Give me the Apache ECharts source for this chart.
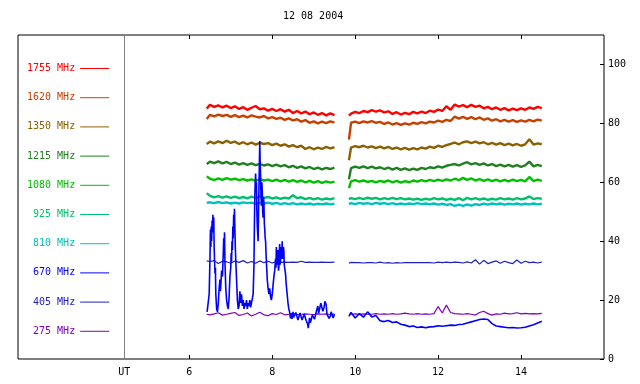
<!DOCTYPE html>
<html>
<head>
<meta charset="utf-8">
<script src="https://cdn.jsdelivr.net/npm/echarts@6/dist/echarts.min.js"></script>
<style>html,body{margin:0;padding:0;background:#fff}#chart{width:640px;height:384px}</style>
</head>
<body>
<div id="chart"></div>
<script>
const titleText = '12 08 2004';
const seriesNames = ['1755 MHz','1620 MHz','1350 MHz','1215 MHz','1080 MHz','925 MHz','810 MHz','670 MHz','405 MHz','275 MHz'];
const xTickValues = [6, 8, 10, 12, 14];
const utPosition = 4.43;
const yTickLabels = [0, 20, 40, 60, 80, 100];

const hoursL = [6.42,6.5,6.6,6.7,6.8,6.9,7.0,7.1,7.2,7.3,7.4,7.5,7.6,7.7,7.8,7.9,8.0,8.1,8.2,8.3,8.4,8.5,8.6,8.7,8.8,8.9,9.0,9.1,9.2,9.3,9.4,9.5];
const hoursR = [9.85,9.9,10.0,10.1,10.2,10.3,10.4,10.5,10.6,10.7,10.8,10.9,11.0,11.1,11.2,11.3,11.4,11.5,11.6,11.7,11.8,11.9,12.0,12.1,12.2,12.3,12.4,12.5,12.6,12.7,12.8,12.9,13.0,13.1,13.2,13.3,13.4,13.5,13.6,13.7,13.8,13.9,14.0,14.1,14.2,14.3,14.4,14.5];

const f1755L = [85.0,86.3,85.6,86.1,85.4,86.0,85.2,85.8,84.9,85.5,84.6,85.3,85.9,84.8,85.1,84.3,84.9,84.2,84.8,84.0,84.6,83.5,84.2,83.4,84.0,83.1,83.7,82.9,83.5,82.7,83.4,82.8];
const f1755R = [82.6,83.3,83.9,83.5,84.2,83.8,84.5,84.0,84.4,83.7,84.1,83.2,83.8,83.0,83.6,83.1,83.9,83.4,84.0,83.5,84.3,83.9,84.7,84.2,85.8,84.6,86.4,85.7,86.2,85.5,86.3,85.6,86.0,85.1,85.6,84.8,85.4,84.6,85.2,84.4,85.0,84.5,85.1,84.6,85.4,84.9,85.6,85.2];
const f1620L = [81.5,82.9,82.4,83.0,82.5,82.9,82.2,82.8,82.1,82.6,82.0,82.7,82.3,82.0,82.5,81.7,82.1,81.5,81.9,81.2,81.7,81.0,81.4,80.6,81.1,80.2,80.7,80.0,80.6,80.1,80.7,80.3];
const f1620R = [74.5,80.2,80.6,80.1,80.7,80.3,80.8,80.2,80.5,79.8,80.3,79.6,80.1,79.5,80.0,79.6,80.2,79.8,80.4,80.0,80.6,80.3,80.9,80.5,81.2,80.8,82.3,81.6,82.2,81.5,82.1,81.4,82.0,81.2,81.7,80.9,81.4,80.7,81.2,80.6,81.1,80.5,81.0,80.6,81.2,80.7,81.3,80.9];
const f1350L = [73.0,73.8,73.2,73.9,73.3,74.1,73.4,73.8,73.0,73.6,72.9,73.5,72.8,73.4,73.0,73.3,72.6,73.1,72.4,72.9,72.1,72.6,71.9,72.4,71.3,71.9,71.2,71.8,71.3,72.0,71.5,71.9];
const f1350R = [67.5,71.8,72.3,71.9,72.4,71.8,72.2,71.6,72.1,71.5,72.0,71.3,71.8,71.2,71.7,71.1,71.6,71.2,71.8,71.4,72.1,71.7,72.4,72.0,72.6,73.0,73.5,72.9,73.6,73.9,73.3,73.8,73.2,73.6,72.9,73.4,72.8,73.3,72.6,73.1,72.5,73.0,72.4,72.9,74.6,72.8,73.2,72.9];
const f1215L = [66.2,67.0,66.5,67.1,66.4,66.9,66.2,66.7,66.0,66.5,65.9,66.4,65.8,66.2,65.7,66.1,65.5,66.0,65.4,65.8,65.1,65.6,64.9,65.4,64.7,65.2,64.5,65.0,64.4,64.9,64.5,65.0];
const f1215R = [61.0,64.8,65.3,64.9,65.4,64.8,65.3,64.7,65.1,64.5,65.0,64.3,64.9,64.2,64.7,64.1,64.6,64.2,64.9,64.5,65.1,64.8,65.4,65.0,65.6,65.9,66.2,65.7,66.3,66.8,66.1,66.5,65.9,66.4,65.7,66.2,65.5,66.0,65.4,65.9,65.3,65.8,65.2,65.7,67.0,65.4,65.9,65.5];
const f1080L = [62.0,61.2,60.7,61.3,60.8,61.4,60.9,61.2,60.7,61.1,60.6,61.0,60.5,61.1,60.6,60.9,60.4,60.9,60.3,60.8,60.2,60.7,60.1,60.6,60.0,60.5,59.9,60.4,59.8,60.3,59.9,60.2];
const f1080R = [58.0,60.3,60.7,60.2,60.6,60.1,60.5,60.0,60.5,60.1,60.6,60.0,60.5,59.9,60.4,60.0,60.6,60.2,60.7,60.3,60.8,60.4,60.9,60.5,61.0,60.6,61.2,60.7,61.5,60.8,61.3,60.6,61.1,60.5,61.0,60.4,60.9,60.3,60.8,60.3,60.9,60.4,60.8,60.3,61.8,60.4,60.9,60.5];
const f925L = [56.3,55.4,54.9,55.3,54.8,55.2,54.7,55.1,54.6,55.0,54.5,55.1,54.6,55.2,54.7,55.0,54.5,54.9,54.4,54.8,54.5,55.6,54.6,54.9,54.3,54.7,54.2,54.6,54.1,54.5,54.2,54.6];
const f925R = [54.3,54.6,54.3,54.7,54.3,54.8,54.4,54.7,54.2,54.6,54.3,54.7,54.3,54.6,54.2,54.5,54.1,54.4,54.0,54.4,54.1,54.6,54.2,54.5,54.0,54.4,54.0,54.6,53.9,54.7,54.2,54.6,54.1,54.5,54.0,54.4,54.1,54.6,54.2,54.5,54.1,54.6,54.2,54.5,55.2,54.3,54.6,54.4];
const f810L = [53.0,53.2,52.9,53.3,52.9,53.2,52.8,53.1,52.8,53.2,52.9,53.1,52.7,53.0,52.8,53.1,52.7,53.0,52.6,52.9,52.6,52.9,52.5,52.8,52.5,52.8,52.4,52.7,52.5,52.8,52.5,52.7];
const f810R = [52.6,52.9,52.6,53.0,52.7,52.9,52.6,53.0,52.7,52.9,52.6,52.9,52.5,52.8,52.5,52.8,52.6,52.9,52.6,52.8,52.5,52.8,52.4,52.7,52.3,52.6,52.0,52.4,52.0,52.5,52.1,52.6,52.3,52.7,52.4,52.8,52.5,52.8,52.4,52.7,52.5,52.8,52.4,52.7,52.5,52.8,52.5,52.7];
const f670L = [[6.43,16.0],[6.46,15.5],[6.48,22],[6.50,35],[6.51,44],[6.52,38],[6.53,45],[6.54,40],[6.55,47],[6.56,43],[6.57,49],[6.58,45],[6.59,48],[6.60,38],[6.61,33],[6.62,29],[6.63,31],[6.64,22],[6.66,17],[6.68,16],[6.70,19],[6.72,24],[6.74,27],[6.75,23],[6.76,25],[6.78,30],[6.80,28],[6.82,36],[6.83,41],[6.84,37],[6.85,43],[6.86,33],[6.88,24],[6.90,20],[6.92,18],[6.94,17],[6.96,21],[6.98,28],[7.00,31],[7.01,36],[7.02,33],[7.03,40],[7.04,37],[7.05,45],[7.06,41],[7.07,49],[7.08,46],[7.09,51],[7.10,44],[7.11,38],[7.12,34],[7.14,27],[7.16,20],[7.18,17],[7.20,18],[7.22,23],[7.24,19],[7.26,22],[7.28,18],[7.30,20],[7.32,17],[7.34,19],[7.36,18],[7.38,20],[7.40,17],[7.42,19],[7.44,18],[7.46,20],[7.48,17.5],[7.50,18],[7.52,17],[7.54,22],[7.56,32],[7.57,45],[7.58,55],[7.59,60],[7.60,63],[7.61,57],[7.62,60],[7.63,50],[7.64,45],[7.66,40],[7.67,50],[7.68,58],[7.69,66],[7.70,74],[7.71,66],[7.72,62],[7.73,55],[7.74,52],[7.75,60],[7.76,57],[7.77,50],[7.78,48],[7.79,55],[7.80,53],[7.81,46],[7.82,44],[7.83,41],[7.84,40],[7.85,36],[7.86,33],[7.88,27],[7.90,24],[7.92,22],[7.94,24],[7.96,21],[7.98,20],[8.00,22],[8.02,25],[8.04,28],[8.06,30],[8.08,34],[8.09,31],[8.10,38],[8.11,33],[8.12,32],[8.13,36],[8.14,37],[8.15,30],[8.16,31],[8.17,36],[8.18,39],[8.19,32],[8.20,33],[8.21,37],[8.22,38],[8.23,34],[8.24,40],[8.25,35],[8.26,34],[8.27,38],[8.28,37],[8.29,32],[8.30,31],[8.32,29],[8.34,25],[8.36,22],[8.38,19],[8.40,17],[8.42,16],[8.44,13.8],[8.46,15.5],[8.48,13.6],[8.50,16],[8.52,14.2],[8.55,14],[8.57,15.8],[8.60,15.5],[8.62,13.2],[8.65,13.8],[8.67,15.6],[8.70,15],[8.72,13.2],[8.75,13.5],[8.77,15.3],[8.80,15.5],[8.82,13.0],[8.85,12],[8.87,10.5],[8.90,14],[8.92,12.3],[8.95,12.5],[8.97,15.0],[9.00,15],[9.02,13.5],[9.05,14],[9.07,16.5],[9.10,18],[9.12,15.5],[9.15,16],[9.17,19.0],[9.20,19.5],[9.22,16.2],[9.25,17.5],[9.27,19.6],[9.30,18.5],[9.32,15.2],[9.35,15.5],[9.37,13.8],[9.40,14.5],[9.42,16.0],[9.45,15.8],[9.47,13.9],[9.50,15.2]];
const f670R = [14.5,15.8,13.9,15.4,14.2,16.0,14.3,14.8,13.0,12.7,13.1,12.4,12.6,11.8,11.5,11.0,11.2,10.7,10.9,10.6,10.9,11.0,11.3,11.1,11.3,11.5,11.4,11.7,11.8,12.2,12.6,13.0,13.4,13.6,13.4,12.0,11.2,11.0,10.8,10.6,10.7,10.5,10.6,10.8,11.2,11.6,12.2,12.8];
const f405L = [33.3,33.1,33.4,32.4,33.2,33.0,32.5,33.3,32.8,33.4,32.6,33.1,32.5,33.3,32.7,33.2,32.6,33.1,32.8,32.9,32.8,32.9,32.8,33.2,32.8,32.9,32.8,32.8,32.9,32.8,32.8,32.9];
const f405R = [32.5,32.8,32.7,32.7,32.6,32.7,32.7,32.6,32.9,32.6,32.7,32.5,32.7,32.6,32.7,32.7,32.7,32.7,32.7,32.7,32.7,32.6,32.9,32.7,32.9,32.7,32.9,32.8,32.6,33.0,32.6,33.7,32.2,33.5,32.4,32.9,33.3,32.5,33.2,32.7,32.4,33.6,32.5,33.2,32.7,32.9,32.6,32.9];
const f275L = [15.2,15.0,15.3,15.7,14.9,15.2,15.5,15.8,14.8,15.1,15.6,14.6,15.2,15.9,15.0,14.7,15.4,15.1,15.7,15.0,15.2,15.3,15.1,15.2,15.3,15.2,15.1,15.3,15.2,15.3,15.1,15.3];
const f275R = [15.2,15.2,15.3,15.2,15.3,15.2,15.2,15.4,15.2,15.3,15.2,15.4,15.2,15.3,15.6,15.3,15.2,15.4,15.2,15.3,15.2,15.4,17.8,15.6,18.3,15.8,15.4,15.3,15.2,15.4,15.2,14.9,15.8,16.2,15.4,14.9,15.3,15.2,15.6,15.3,15.4,15.7,15.3,15.5,15.3,15.4,15.3,15.5];

const colors = {
  '1755 MHz':'#ff0000','1620 MHz':'#c84000','1350 MHz':'#8c6000','1215 MHz':'#208020','1080 MHz':'#00c000',
  '925 MHz':'#00c070','810 MHz':'#00c0c0','670 MHz':'#0000ff','405 MHz':'#2020c0','275 MHz':'#8000c0'
};

function pairs(ts, vs) { return ts.map((t, i) => [t, vs[i]]); }
function joined(leftPairs, rightVals) {
  return leftPairs.concat([[9.7, null]], pairs(hoursR, rightVals));
}
const seriesData = {
  '1755 MHz': joined(pairs(hoursL, f1755L), f1755R),
  '1620 MHz': joined(pairs(hoursL, f1620L), f1620R),
  '1350 MHz': joined(pairs(hoursL, f1350L), f1350R),
  '1215 MHz': joined(pairs(hoursL, f1215L), f1215R),
  '1080 MHz': joined(pairs(hoursL, f1080L), f1080R),
  '925 MHz': joined(pairs(hoursL, f925L), f925R),
  '810 MHz': joined(pairs(hoursL, f810L), f810R),
  '670 MHz': joined(f670L, f670R),
  '405 MHz': joined(pairs(hoursL, f405L), f405R),
  '275 MHz': joined(pairs(hoursL, f275L), f275R)
};
const drawOrder = ['275 MHz','405 MHz','810 MHz','925 MHz','1080 MHz','1215 MHz','1350 MHz','1620 MHz','1755 MHz','670 MHz'];
const FONT = 'DejaVu Sans Mono';
const thinSeries = ['405 MHz','275 MHz'];

const series = drawOrder.map(name => {
  const s = {
    name: name, type: 'line', data: seriesData[name], showSymbol: false, symbol: 'none',
    connectNulls: false, color: colors[name],
    lineStyle: { color: colors[name], width: thinSeries.includes(name) ? 1.2 : (name === '670 MHz' ? 1.6 : 2.4) },
    animation: false, silent: true
  };
  if (name === '275 MHz') {
    s.markLine = { silent: true, symbol: 'none', label: { show: false },
      lineStyle: { color: '#808080', width: 1, type: 'solid' },
      data: [{ xAxis: utPosition }] };
  }
  return s;
});

const chart = echarts.init(document.getElementById('chart'), null, { renderer: 'canvas' });
chart.setOption({
  backgroundColor: '#ffffff',
  animation: false,
  title: { text: titleText, left: 283, top: 11, padding: 0, textStyle: { fontFamily: FONT, fontSize: 10, fontWeight: 'normal', color: '#000' } },
  legend: {
    orient: 'vertical', left: 27, top: 62.5, padding: 0, itemGap: 17.2, itemWidth: 29, itemHeight: 1, icon: 'rect',
    align: 'right', selectedMode: false,
    textStyle: { fontFamily: FONT, fontSize: 10, lineHeight: 12 },
    formatter: n => n.padStart(8, ' '),
    data: seriesNames.map(n => ({ name: n, textStyle: { color: colors[n] } }))
  },
  grid: { left: 18, right: 36, top: 35, bottom: 25, show: true, borderColor: '#000', borderWidth: 1, backgroundColor: 'transparent' },
  xAxis: [{
    type: 'value', min: 1.87, max: 16, position: 'bottom',
    axisLine: { show: false },
    axisTick: { show: true, inside: true, length: 4, lineStyle: { color: '#000' }, customValues: xTickValues },
    axisLabel: { show: true, margin: 8, color: '#000', fontFamily: FONT, fontSize: 10,
      customValues: [utPosition].concat(xTickValues),
      formatter: v => (Math.abs(v - utPosition) < 1e-6 ? 'UT' : String(v)) },
    splitLine: { show: false }
  }, {
    type: 'value', min: 1.87, max: 16, position: 'top',
    axisLine: { show: false },
    axisTick: { show: true, inside: true, length: 4, lineStyle: { color: '#000' }, customValues: xTickValues },
    axisLabel: { show: false },
    splitLine: { show: false }
  }],
  yAxis: {
    type: 'value', min: 0, max: 110, position: 'right',
    axisLine: { show: false },
    axisTick: { show: true, inside: true, length: 4, lineStyle: { color: '#000' }, customValues: yTickLabels },
    axisLabel: { show: true, margin: 4, color: '#000', fontFamily: FONT, fontSize: 10, customValues: yTickLabels },
    splitLine: { show: false }
  },
  series: series
});
</script>
</body>
</html>
